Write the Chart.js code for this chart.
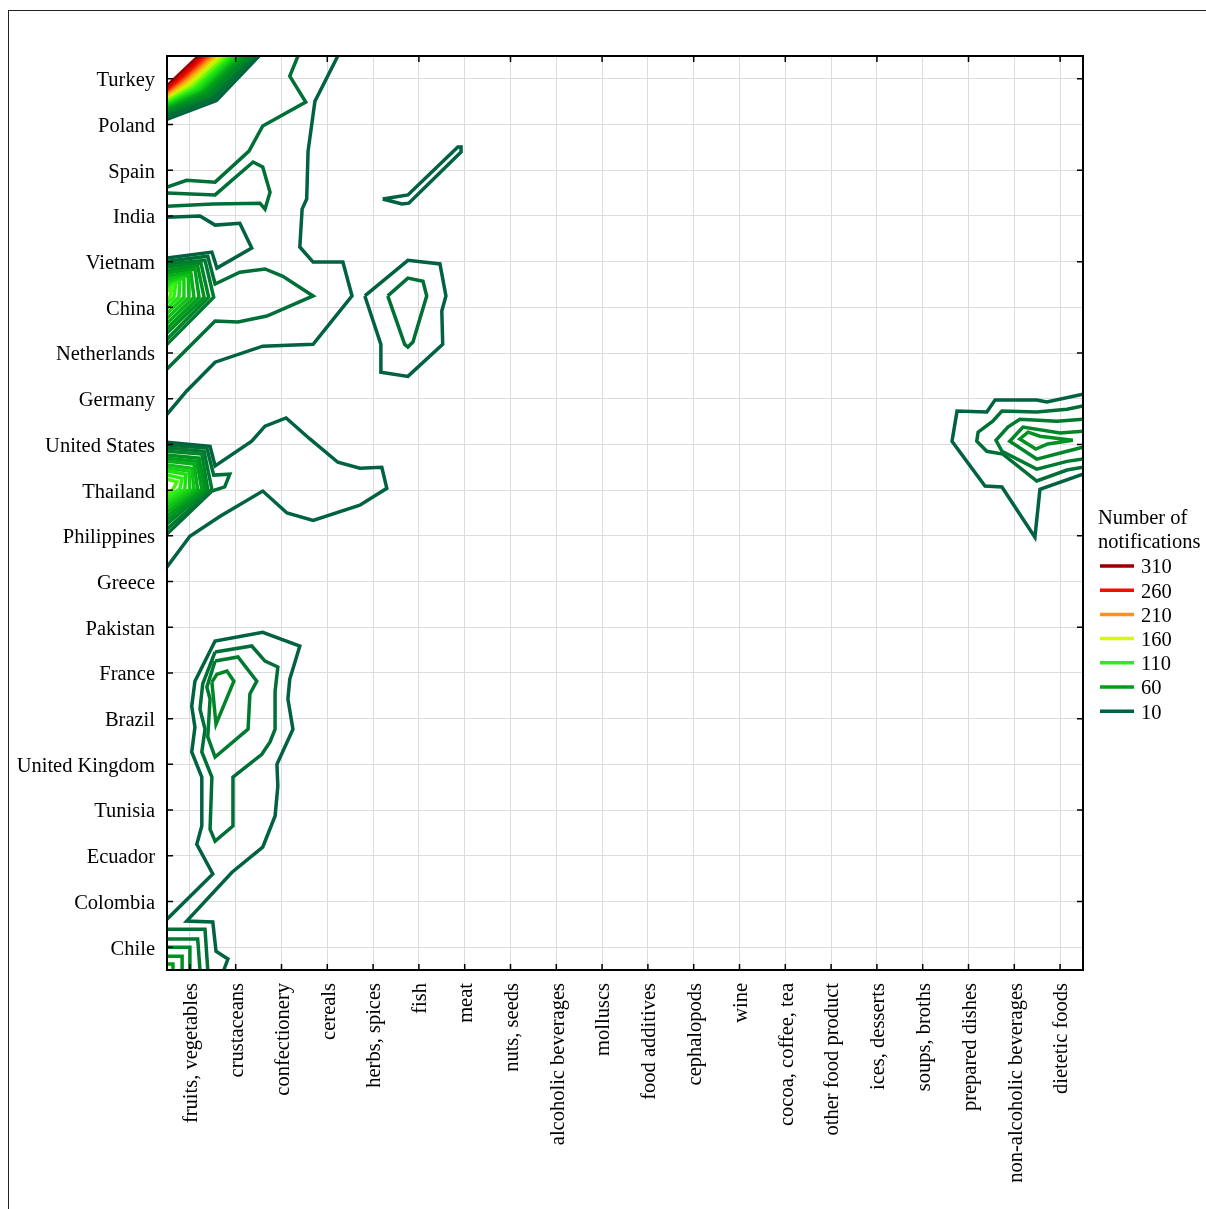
<!DOCTYPE html>
<html><head><meta charset="utf-8">
<script src="https://cdn.jsdelivr.net/npm/chart.js@4.4.1/dist/chart.umd.min.js"></script>
<style>html,body{margin:0;padding:0;background:#fff;overflow:hidden}canvas{display:block}</style>
</head><body>
<canvas id="c" width="1206" height="1209"></canvas>
<script>
// ---- data ----
const categories = ["fruits, vegetables","crustaceans","confectionery","cereals","herbs, spices","fish","meat","nuts, seeds","alcoholic beverages","molluscs","food additives","cephalopods","wine","cocoa, coffee, tea","other food product","ices, desserts","soups, broths","prepared dishes","non-alcoholic beverages","dietetic foods"];
// top to bottom as displayed (Chile = 0 on the value axis)
const countries = ["Turkey","Poland","Spain","India","Vietnam","China","Netherlands","Germany","United States","Thailand","Philippines","Greece","Pakistan","France","Brazil","United Kingdom","Tunisia","Ecuador","Colombia","Chile"];
const legendLevels = [310,260,210,160,110,60,10];
const legendTitle = ["Number of","notifications"];

// contour lines: level + vertices in (category index, country index) units
const turkeyContours = [
 {level:10, pts:[[-0.5,18.10],[0.59,18.51],[1.53,19.5]]},
 {level:30, pts:[[-0.5,18.23],[0.48,18.60],[1.38,19.5]]},
 {level:50, pts:[[-0.5,18.32],[0.37,18.67],[1.22,19.5]]},
 {level:70, pts:[[-0.5,18.38],[0.28,18.73],[1.09,19.5]]},
 {level:90, pts:[[-0.5,18.44],[0.20,18.76],[0.98,19.5]]},
 {level:110, pts:[[-0.5,18.49],[0.13,18.81],[0.87,19.5]]},
 {level:130, pts:[[-0.5,18.53],[0.07,18.84],[0.79,19.5]]},
 {level:150, pts:[[-0.5,18.58],[0.02,18.88],[0.70,19.5]]},
 {level:170, pts:[[-0.5,18.61],[-0.02,18.91],[0.63,19.5]]},
 {level:190, pts:[[-0.5,18.64],[-0.07,18.93],[0.57,19.5]]},
 {level:210, pts:[[-0.5,18.68],[-0.09,18.97],[0.50,19.5]]},
 {level:230, pts:[[-0.5,18.71],[-0.11,19.00],[0.44,19.5]]},
 {level:250, pts:[[-0.5,18.74],[-0.13,19.04],[0.37,19.5]]},
 {level:270, pts:[[-0.5,18.77],[-0.15,19.07],[0.31,19.5]]},
 {level:290, pts:[[-0.5,18.82],[-0.17,19.12],[0.24,19.5]]},
 {level:310, pts:[[-0.5,18.86],[-0.17,19.18],[0.17,19.5]]}
];
const upperContours = [
 {level:10, pts:[[3.23,19.5],[2.73,18.51],[2.58,17.42],[2.55,16.37],[2.45,16.15],[2.40,15.32],[2.69,14.99],[3.34,14.99],[3.54,14.25],[2.69,13.19],[1.59,13.15],[0.55,12.80],[-0.07,12.17],[-0.5,11.66]]},
 {level:20, pts:[[2.36,19.5],[2.18,19.06],[2.53,18.49],[1.59,17.97],[1.29,17.42],[0.55,16.74],[-0.07,16.78],[-0.5,16.63]]},
 {level:20, pts:[[-0.5,16.50],[0.55,16.46],[1.38,17.18],[1.59,17.07],[1.75,16.52],[1.64,16.15],[1.53,16.28],[0.50,16.26],[-0.5,16.21]]},
 {level:10, pts:[[-0.5,15.97],[0.22,16.00],[0.55,15.80],[1.09,15.84],[1.35,15.30],[0.59,14.86],[0.48,15.21],[-0.5,15.08]]},
 {level:10, pts:[[4.21,16.37],[4.76,16.46],[5.85,17.51],[5.92,17.51],[5.92,17.40],[4.78,16.28],[4.63,16.26],[4.21,16.37]]},
 {level:10, pts:[[3.82,14.25],[4.76,15.03],[5.46,14.95],[5.59,14.25],[5.50,13.92],[5.52,13.19],[4.76,12.49],[4.17,12.58],[4.17,13.19],[3.82,14.25]]},
 {level:20, pts:[[4.32,14.25],[4.76,14.64],[5.09,14.57],[5.17,14.25],[4.87,13.24],[4.76,13.13],[4.69,13.19],[4.32,14.25]]}
];
const chinaContours = [
 {level:20, pts:[[-0.5,15.01],[0.39,15.12],[0.55,14.51],[1.09,14.77],[1.64,14.84],[2.03,14.68],[2.69,14.25],[1.68,13.81],[1.05,13.68],[0.55,13.70],[-0.5,12.65]]},
 {level:30, pts:[[-0.5,14.95],[0.33,15.03],[0.52,14.22],[-0.5,13.19]]},
 {level:40, pts:[[-0.5,14.88],[0.24,14.97],[0.41,14.22],[-0.5,13.30]]},
 {level:50, pts:[[-0.5,14.81],[0.17,14.90],[0.31,14.22],[-0.5,13.44]]},
 {level:60, pts:[[-0.5,14.75],[0.11,14.84],[0.20,14.22],[-0.5,13.54]]},
 {level:70, pts:[[-0.5,14.68],[0.02,14.77],[0.09,14.22],[-0.5,13.65]]},
 {level:80, pts:[[-0.5,14.62],[-0.04,14.70],[-0.02,14.22],[-0.5,13.76]]},
 {level:90, pts:[[-0.5,14.55],[-0.13,14.64],[-0.13,14.22],[-0.5,13.87]]},
 {level:100, pts:[[-0.5,14.49],[-0.22,14.57],[-0.24,14.22],[-0.5,13.98]]},
 {level:110, pts:[[-0.5,14.42],[-0.31,14.51],[-0.35,14.22],[-0.5,14.09]]},
 {level:120, pts:[[-0.5,14.35],[-0.39,14.44],[-0.44,14.22],[-0.5,14.18]]}
];
const thailandContours = [
 {level:10, pts:[[-0.5,11.05],[0.44,10.96],[0.55,10.53],[1.35,11.07],[1.64,11.40],[2.10,11.58],[2.62,11.12],[3.23,10.61],[3.71,10.48],[4.19,10.50],[4.30,10.04],[3.71,9.67],[2.69,9.34],[2.12,9.50],[1.59,9.98],[0.66,9.43],[0.00,8.99],[-0.5,8.32]]},
 {level:20, pts:[[-0.5,10.98],[0.37,10.92],[0.52,10.33],[0.87,10.35],[0.76,10.07],[0.48,9.98],[-0.5,9.04]]},
 {level:30, pts:[[-0.5,10.92],[0.31,10.85],[0.48,10.02],[-0.5,9.15]]},
 {level:40, pts:[[-0.5,10.85],[0.26,10.79],[0.39,10.02],[-0.5,9.26]]},
 {level:50, pts:[[-0.5,10.77],[0.20,10.70],[0.33,10.02],[-0.5,9.34]]},
 {level:60, pts:[[-0.5,10.70],[0.15,10.63],[0.26,10.02],[-0.5,9.43]]},
 {level:70, pts:[[-0.5,10.63],[0.09,10.57],[0.17,10.02],[-0.5,9.52]]},
 {level:80, pts:[[-0.5,10.55],[0.04,10.48],[0.09,10.02],[-0.5,9.61]]},
 {level:90, pts:[[-0.5,10.48],[-0.02,10.42],[0.00,10.02],[-0.5,9.69]]},
 {level:100, pts:[[-0.5,10.42],[-0.09,10.35],[-0.11,10.02],[-0.5,9.76]]},
 {level:110, pts:[[-0.5,10.33],[-0.17,10.26],[-0.22,10.02],[-0.5,9.85]]},
 {level:120, pts:[[-0.5,10.24],[-0.28,10.18],[-0.37,10.02],[-0.5,9.91]]}
];
const franceContours = [
 {level:10, pts:[[-0.5,0.61],[0.50,1.60],[0.15,2.25],[0.26,2.65],[0.26,3.72],[0.04,4.27],[0.11,4.81],[0.04,5.27],[0.11,5.82],[0.55,6.70],[1.59,6.89],[2.40,6.59],[2.18,5.86],[2.14,5.43],[2.25,4.77],[1.90,4.00],[1.92,3.52],[1.86,2.87],[1.59,2.19],[0.92,1.64],[-0.07,0.57],[0.50,0.55],[0.57,-0.09],[0.83,-0.26],[0.74,-0.5]]},
 {level:20, pts:[[0.55,6.46],[1.35,6.59],[1.64,6.26],[1.92,6.13],[1.86,5.60],[1.86,4.77],[1.75,4.49],[1.57,4.22],[0.94,3.72],[0.94,2.65],[0.55,2.32],[0.44,2.58],[0.48,3.72],[0.26,4.27],[0.33,4.77],[0.22,5.21],[0.28,5.76],[0.55,6.46]]},
 {level:30, pts:[[0.55,6.26],[1.05,6.35],[1.46,5.82],[1.31,5.54],[1.27,4.77],[0.55,4.16],[0.39,4.60],[0.44,5.43],[0.37,5.69],[0.55,6.26]]},
 {level:40, pts:[[0.48,5.80],[0.59,5.97],[0.81,6.04],[0.96,5.82],[0.57,4.88],[0.48,5.80]]}
];
const chileContours = [
 {level:20, pts:[[-0.5,0.39],[0.33,0.39],[0.39,-0.5]]},
 {level:30, pts:[[-0.5,0.18],[0.17,0.18],[0.22,-0.5]]},
 {level:40, pts:[[-0.5,0.00],[0.00,0.00],[0.00,-0.5]]},
 {level:50, pts:[[-0.5,-0.20],[-0.17,-0.20],[-0.17,-0.5]]},
 {level:60, pts:[[-0.5,-0.37],[-0.37,-0.37],[-0.37,-0.5]]}
];
const beverageContours = [
 {level:10, pts:[[19.5,12.10],[18.71,11.93],[18.49,11.97],[17.58,11.97],[17.40,11.71],[16.75,11.73],[16.64,11.07],[17.36,10.09],[17.73,10.07],[18.45,8.97],[18.56,10.02],[19.5,10.35]]},
 {level:20, pts:[[19.5,11.84],[19.15,11.77],[18.49,11.71],[17.73,11.73],[17.53,11.51],[17.21,11.27],[17.18,11.07],[17.40,10.85],[17.75,10.79],[18.49,10.20],[19.15,10.44],[19.5,10.50]]},
 {level:30, pts:[[19.5,11.55],[18.93,11.51],[18.12,11.55],[17.86,11.38],[17.60,11.09],[17.73,10.85],[18.49,10.46],[19.15,10.63],[19.5,10.68]]},
 {level:40, pts:[[19.5,11.29],[19.00,11.25],[18.19,11.38],[17.90,11.07],[18.49,10.68],[19.15,10.85],[19.5,10.94]]},
 {level:50, pts:[[19.28,11.09],[18.56,11.18],[18.30,11.27],[18.12,11.12],[18.47,10.90],[18.73,11.01],[19.28,11.09]]}
];

// ---- colour scale ----
const colorStops = [[10,[0,98,62]],[60,[0,158,26]],[110,[40,240,20]],[160,[215,250,0]],[210,[255,145,20]],[260,[250,10,0]],[310,[150,0,0]]];
function levelColor(l){
  if(l<=colorStops[0][0]) return 'rgb('+colorStops[0][1].join(',')+')';
  for(let i=1;i<colorStops.length;i++){
    if(l<=colorStops[i][0]){
      const [l0,c0]=colorStops[i-1],[l1,c1]=colorStops[i];const t=(l-l0)/(l1-l0);
      return 'rgb('+c0.map((v,k)=>Math.round(v+(c1[k]-v)*t)).join(',')+')';
    }
  }
  return 'rgb('+colorStops[colorStops.length-1][1].join(',')+')';
}

function mk(c, opts){
  return Object.assign({
    data:c.pts.map(p=>({x:p[0],y:p[1]})),
    showLine:true, borderColor:levelColor(c.level), borderWidth:3.5,
    pointRadius:0, pointHoverRadius:0, tension:0, fill:false, order:-c.level,
    borderJoinStyle:'miter', borderCapStyle:'butt'
  }, opts||{});
}
const topLevel = turkeyContours[turkeyContours.length-1].level;
const datasets = [];
turkeyContours.forEach(c=>datasets.push(mk(c,{
  borderWidth:2, order:-1000-c.level,
  fill:{value:19.5},
  backgroundColor: c.level===topLevel ? '#ffffff' : levelColor(c.level+10)
})));
[upperContours,chinaContours,thailandContours,franceContours,chileContours,beverageContours]
  .forEach(group=>group.forEach(c=>datasets.push(mk(c))));

const serif = '"Liberation Serif","Times New Roman",serif';
const decor = {
  id:'decor',
  beforeDraw(chart){
    const ctx=chart.ctx; ctx.save(); ctx.strokeStyle='#222'; ctx.lineWidth=1;
    ctx.strokeRect(8.5,10.5,2000,2000); ctx.restore();
  },
  afterDatasetsDraw(chart){
    const {ctx, chartArea:a, scales:{x,y}} = chart;
    ctx.save(); ctx.strokeStyle='#000'; ctx.lineWidth=1.5; ctx.beginPath();
    categories.forEach((c,i)=>{
      const px=x.getPixelForValue(i);
      ctx.moveTo(px,a.bottom); ctx.lineTo(px,a.bottom-6);
      if(i%2===1){ ctx.moveTo(px,a.top); ctx.lineTo(px,a.top+6); }
    });
    countries.forEach((c,i)=>{
      const v=countries.length-1-i, py=y.getPixelForValue(v);
      ctx.moveTo(a.left,py); ctx.lineTo(a.left+6,py);
      if(v%2===1){ ctx.moveTo(a.right,py); ctx.lineTo(a.right-6,py); }
    });
    ctx.stroke();
    ctx.lineWidth=2; ctx.strokeRect(a.left,a.top,a.right-a.left,a.bottom-a.top);
    ctx.restore();
  },
  afterDraw(chart){
    const ctx=chart.ctx; ctx.save();
    ctx.font='20.5px '+serif; ctx.fillStyle='#000'; ctx.textBaseline='middle'; ctx.textAlign='left';
    ctx.fillText(legendTitle[0],1098,518.5); ctx.fillText(legendTitle[1],1098,542.5);
    legendLevels.forEach((lv,i)=>{
      const yy=566+i*24.2;
      ctx.strokeStyle=levelColor(lv); ctx.lineWidth=3.5;
      ctx.beginPath(); ctx.moveTo(1100,yy); ctx.lineTo(1134,yy); ctx.stroke();
      ctx.fillText(String(lv),1141,yy+2);
    });
    ctx.restore();
  }
};

new Chart(document.getElementById('c'), {
  type:'scatter',
  data:{datasets},
  options:{
    responsive:false, animation:false, devicePixelRatio:1,
    layout:{padding:{top:56,right:123,left:0,bottom:0}},
    plugins:{legend:{display:false}, tooltip:{enabled:false}},
    events:[],
    scales:{
      x:{type:'linear', min:-0.5, max:19.5,
        afterBuildTicks:s=>{s.ticks=categories.map((c,i)=>({value:i}));},
        afterFit:s=>{s.height=239;},
        grid:{color:'#dcdcdc', lineWidth:1, drawTicks:false},
        border:{display:false},
        ticks:{autoSkip:false, minRotation:90, maxRotation:90, padding:13, labelOffset:2, color:'#000',
          font:{family:serif,size:20.5}, callback:v=>categories[v]}
      },
      y:{type:'linear', min:-0.5, max:19.5,
        afterBuildTicks:s=>{s.ticks=countries.map((c,i)=>({value:countries.length-1-i}));},
        afterFit:s=>{s.width=167;},
        grid:{color:'#dcdcdc', lineWidth:1, drawTicks:false},
        border:{display:false},
        ticks:{autoSkip:false, padding:12, labelOffset:2, color:'#000',
          font:{family:serif,size:20.5}, callback:v=>countries[countries.length-1-v]}
      }
    }
  },
  plugins:[decor]
});
</script>
</body></html>
